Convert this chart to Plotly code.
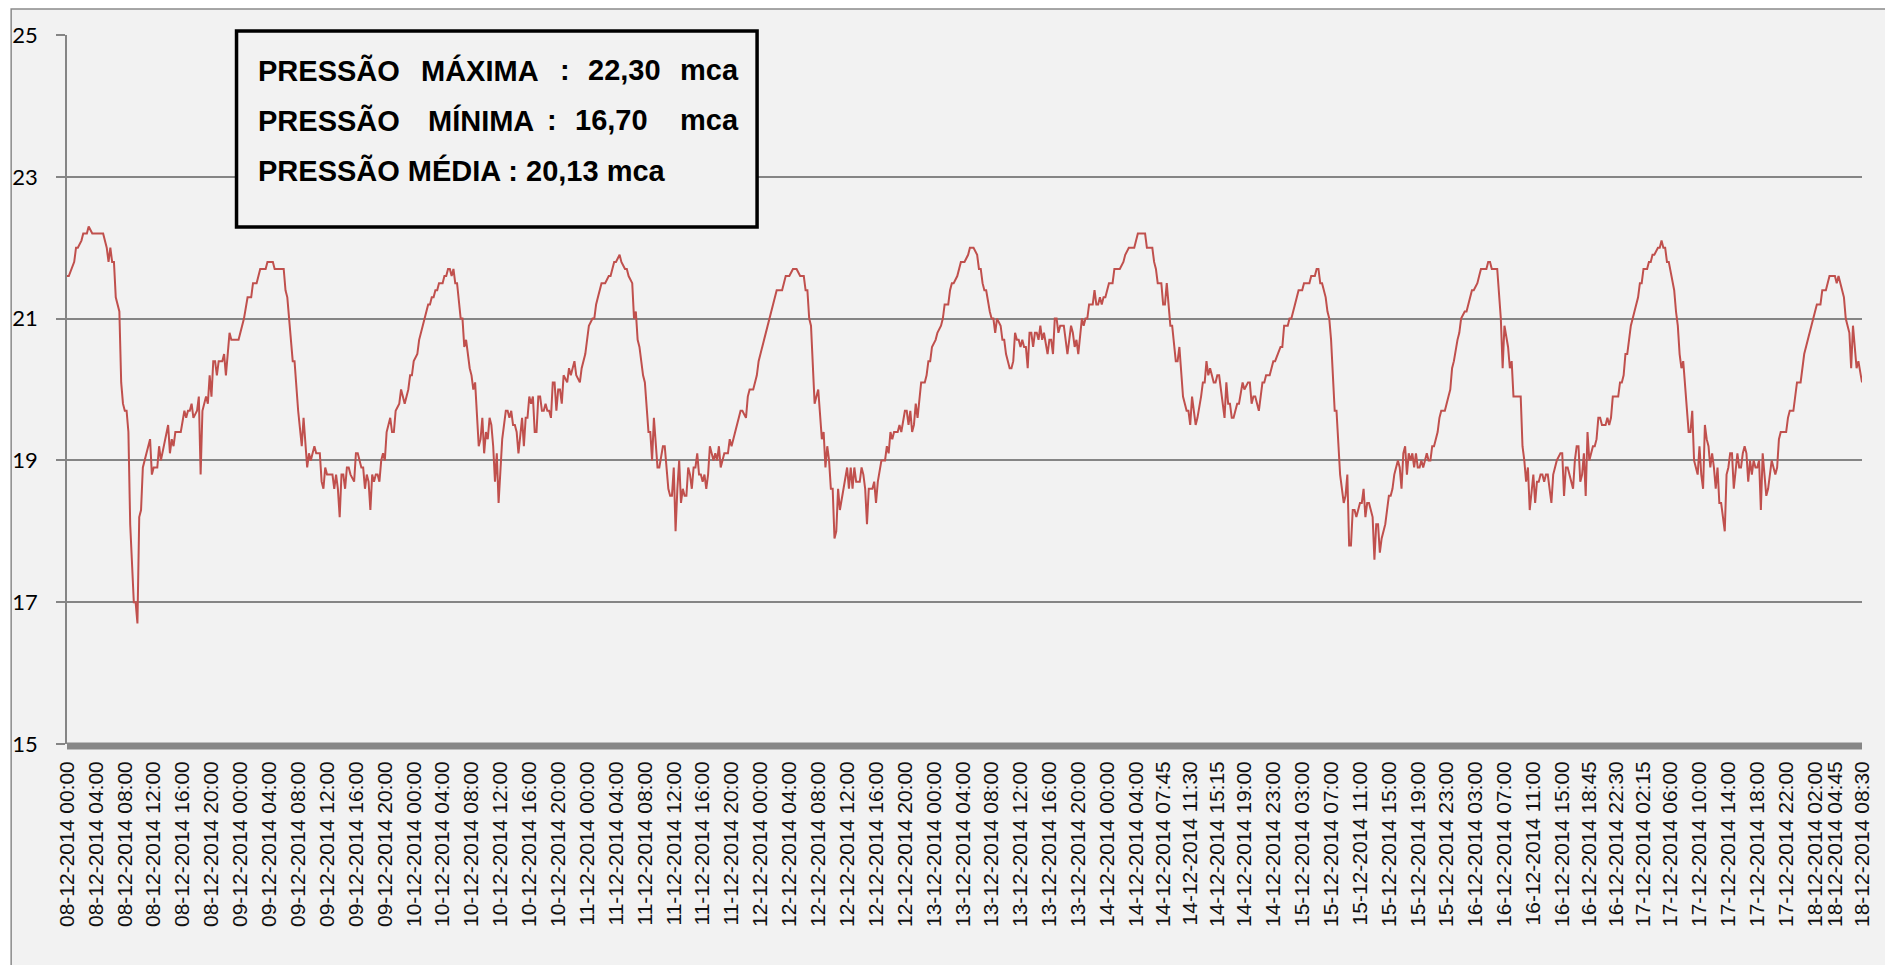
import plotly.graph_objects as go
import pandas as pd

# ---------------- data ----------------
inicio = pd.Timestamp("2014-12-08 00:00")   # first reading, one reading every 15 min
ultima_leitura = 994                          # 18-12-2014 08:30

# reading number (15-min step since 08-12-2014 00:00) and pressure (mca)
leitura = [
    0, 1, 4, 5, 6, 8, 9, 11, 12, 14, 20, 22, 23, 24, 25, 26, 27, 29, 30, 31, 32, 33, 34, 35, 37, 38, 39, 40,
    41, 42, 44, 46, 47, 48, 50, 51, 52, 55, 56, 57, 58, 59, 60, 63, 65, 66, 67, 68, 69, 70, 72, 73, 74, 75,
    77, 78, 79, 80, 81, 82, 83, 84, 86, 87, 88, 90, 91, 95, 98, 100, 102, 103, 105, 107, 110, 111, 114, 115,
    120, 121, 122, 125, 126, 128, 130, 131, 133, 134, 135, 136, 137, 138, 140, 141, 142, 143, 144, 147, 148,
    149, 150, 151, 152, 153, 154, 155, 156, 157, 159, 160, 161, 163, 164, 165, 166,
    167, 168, 169, 170, 171, 172, 173, 174, 175, 176, 177, 179, 180, 181, 182, 184, 185, 187, 189, 190, 191,
    192, 194, 195, 197, 198, 200, 201, 202, 203, 204, 205, 206, 208, 209, 210, 211, 212, 213, 214, 215, 216,
    218, 219, 220, 221, 223, 224, 225, 226, 227, 228, 229, 230, 231, 232, 233, 234, 235, 236, 237, 238, 239,
    240, 241, 243, 244, 245, 246, 247, 248, 249, 250, 252, 253, 254, 255, 256, 257, 258, 259, 260, 261, 262,
    263, 264, 265, 266, 267, 268, 269, 270, 271, 272, 273, 274, 275, 277, 278, 279, 281, 282, 284, 285, 287,
    289, 291, 292, 293, 294, 296, 298, 300, 301, 303, 304, 306, 307, 309, 310, 311, 313, 314, 315, 316, 317,
    319, 320, 322, 323, 324, 325, 327, 328, 330, 331, 333,
    334, 335, 336, 337, 338, 339, 340, 341, 342, 343, 344, 345, 346, 347, 348, 349, 350, 351, 352, 353, 354,
    355, 356, 357, 358, 359, 360, 361, 362, 364, 366, 367, 368, 370, 372, 373, 374, 376, 377, 378, 380, 382,
    383, 385, 386, 387, 388, 390, 392, 393, 396, 397, 398, 400, 402, 404, 406, 408, 409, 410, 411, 412, 413,
    414, 415, 416, 418, 419, 420, 421, 422, 423, 424, 425, 426, 427, 428, 430, 431, 432, 433, 434, 435, 436,
    437, 439, 440, 441, 442, 443, 444, 446, 447, 448, 449, 451, 453, 454, 455, 456, 457, 458, 460, 461, 462,
    464, 465, 466, 467, 468, 469, 470, 471, 472, 473, 475, 476, 477, 478, 479, 481, 482, 484, 485, 486, 488,
    489, 490, 491, 493, 494, 495, 497,
    499, 500, 502, 504, 505, 506, 507, 508, 509, 511, 512, 513, 514, 515, 517, 518, 519, 520, 521, 522, 523,
    524, 525, 526, 527, 528, 529, 530, 531, 532, 533, 534, 535, 536, 537, 538, 539, 540, 541, 543, 544, 545,
    546, 547, 548, 549, 550, 552, 553, 554, 555, 556, 557, 558, 559, 560, 562, 563, 564, 565, 566, 568, 569,
    570, 571, 572, 573, 574, 575, 577, 579, 580, 583, 585, 586, 588, 591, 593, 597, 598, 601, 602, 603, 604,
    606, 607, 608, 609, 611, 612, 614, 615, 616, 618, 620, 621, 622, 623, 625, 626, 628, 629, 630, 631, 632,
    633, 634, 635, 636, 637, 638, 639, 641, 642, 643, 644, 645, 646, 648, 649, 651, 652, 654, 655, 656, 657,
    658, 660, 662, 663, 664,
    665, 666, 668, 669, 672, 673, 674, 676, 677, 678, 680, 682, 684, 685, 688, 689, 691, 692, 693, 694, 695,
    697, 698, 699, 700, 701, 702, 703, 705, 707, 708, 709, 710, 711, 712, 713, 714, 715, 716, 717, 718, 719,
    720, 721, 722, 723, 724, 725, 726, 727, 728, 730, 732, 733, 734, 735, 736, 737, 738, 739, 740, 741, 742,
    743, 744, 745, 746, 747, 748, 749, 750, 751, 752, 753, 754, 755, 756, 757, 759, 760, 761, 763, 765, 766,
    767, 768, 770, 771, 772, 774, 775, 777, 778, 779, 781, 782, 783, 786, 787, 788, 789, 792, 793, 794, 795,
    796, 798, 799, 800, 801, 802, 805, 806, 807, 808, 809, 810, 811, 812, 813, 814, 815, 816, 817, 818, 819,
    820, 821, 822, 823, 825, 827, 828, 829, 830,
    831, 833, 834, 835, 836, 837, 838, 839, 840, 841, 842, 843, 844, 845, 846, 847, 848, 849, 850, 852, 853,
    854, 855, 856, 859, 860, 861, 862, 863, 864, 865, 866, 868, 870, 871, 872, 873, 875, 876, 877, 878, 879,
    881, 882, 883, 884, 885, 886, 887, 889, 890, 891, 892, 893, 894, 895, 896, 898, 899, 900, 901, 902, 903,
    904, 905, 906, 907, 908, 909, 910, 911, 912, 913, 914, 915, 916, 917, 918, 919, 920, 921, 922, 923, 924,
    925, 926, 927, 928, 929, 930, 931, 932, 933, 934, 935, 936, 937, 938, 939, 940, 941, 942, 943, 944, 945,
    946, 947, 948, 949, 952, 953, 954, 956, 957, 958, 960, 961, 962, 964, 966, 967, 969, 971, 972, 974, 976,
    979, 980, 981, 982, 984, 985, 987, 988, 989, 991, 992, 994,
]
pressao = [
    21.6, 21.6, 21.8, 22.0, 22.0, 22.1, 22.2, 22.2, 22.3, 22.2, 22.2, 22.0, 21.8, 22.0, 21.8, 21.8, 21.3, 21.1, 20.1, 19.8, 19.7, 19.7, 19.4, 18.1, 17.0, 17.0, 16.7, 18.2,
    18.3, 18.9, 19.1, 19.3, 18.8, 18.9, 18.9, 19.2, 19.0, 19.4, 19.5, 19.1, 19.3, 19.2, 19.4, 19.4, 19.7, 19.6, 19.7, 19.7, 19.8, 19.6, 19.7, 19.9, 18.8, 19.7,
    19.9, 19.8, 20.2, 19.9, 20.4, 20.4, 20.2, 20.4, 20.4, 20.5, 20.2, 20.8, 20.7, 20.7, 21.0, 21.3, 21.3, 21.5, 21.5, 21.7, 21.7, 21.8, 21.8, 21.7,
    21.7, 21.4, 21.3, 20.4, 20.4, 19.7, 19.2, 19.6, 18.9, 19.1, 19.0, 19.1, 19.2, 19.1, 19.1, 18.7, 18.6, 18.9, 18.8, 18.8, 18.6,
    18.8, 18.6, 18.2, 18.8, 18.8, 18.6, 18.9, 18.9, 18.8, 18.7, 19.1, 19.1, 18.9, 18.9, 18.6, 18.8,
    18.7, 18.3, 18.8, 18.7, 18.8, 18.8, 18.7, 19.0, 19.1, 19.0, 19.4, 19.6, 19.4, 19.4, 19.7, 19.8, 20.0, 19.8, 20.0, 20.2, 20.2,
    20.4, 20.5, 20.7, 20.9, 21.0, 21.2, 21.2, 21.3, 21.3, 21.4, 21.4, 21.5, 21.5, 21.6, 21.6, 21.7, 21.7, 21.6, 21.7, 21.5, 21.5,
    21.0, 21.0, 20.6, 20.7, 20.3, 20.2, 20.0, 20.1, 19.6, 19.2, 19.3, 19.6, 19.1, 19.4, 19.3, 19.6, 19.5, 19.2, 18.7, 19.1, 18.4,
    18.9, 19.3, 19.7, 19.7, 19.6, 19.7, 19.5, 19.5, 19.4, 19.1, 19.6, 19.2, 19.6, 19.6, 19.9, 19.8, 19.9, 19.4, 19.4, 19.9, 19.9,
    19.7, 19.7, 19.8, 19.7, 19.7, 19.6, 20.1, 20.1, 19.7, 20.0, 20.0, 19.8, 20.2, 20.1, 20.3, 20.2, 20.4, 20.2, 20.1, 20.3, 20.5,
    20.9, 21.0, 21.0, 21.2, 21.3, 21.5, 21.5, 21.6, 21.6, 21.8, 21.8, 21.9, 21.8, 21.7, 21.7, 21.6, 21.5, 21.0, 21.1, 20.7, 20.6,
    20.2, 20.1, 19.4, 19.4, 19.0, 19.6, 18.9, 18.9, 19.2, 19.2, 18.6,
    18.5, 18.5, 18.9, 18.0, 18.6, 19.0, 18.4, 18.6, 18.5, 18.5, 18.9, 18.8, 18.6, 18.9, 18.9, 19.1, 18.8, 18.8, 18.7, 18.8, 18.6,
    18.8, 19.2, 19.1, 19.0, 19.1, 19.0, 19.2, 18.9, 19.1, 19.1, 19.3, 19.2, 19.4, 19.6, 19.7, 19.7, 19.6, 19.9, 20.0, 20.0, 20.2,
    20.4, 20.6, 20.7, 20.8, 20.9, 21.1, 21.3, 21.4, 21.4, 21.5, 21.6, 21.6, 21.7, 21.7, 21.6, 21.6, 21.4, 21.4, 21.0, 20.9, 20.4,
    19.8, 19.9, 20.0, 19.3, 19.4, 18.9, 19.2, 19.0, 18.6, 18.6, 17.9, 18.0, 18.6, 18.3, 18.6, 18.7, 18.9, 18.6, 18.9, 18.6, 18.9,
    18.7, 18.7, 18.9, 18.8, 18.6, 18.1, 18.6, 18.6, 18.7, 18.4, 18.7, 19.0, 19.0, 19.2, 19.1, 19.4, 19.3, 19.4, 19.4, 19.5, 19.4,
    19.7, 19.7, 19.5, 19.7, 19.4, 19.5, 19.8, 19.6, 19.9, 20.1, 20.1, 20.2, 20.4, 20.4, 20.6, 20.7, 20.8, 20.9, 21.0, 21.2, 21.2,
    21.4, 21.5, 21.5, 21.6, 21.7, 21.8, 21.8,
    21.9, 22.0, 22.0, 21.9, 21.7, 21.7, 21.5, 21.4, 21.4, 21.1, 21.0, 21.0, 20.8, 21.0, 20.9, 20.7, 20.7, 20.5, 20.4, 20.3, 20.3,
    20.4, 20.8, 20.7, 20.7, 20.6, 20.7, 20.6, 20.6, 20.3, 20.8, 20.8, 20.6, 20.8, 20.8, 20.7, 20.9, 20.7, 20.8, 20.5, 20.7, 20.7,
    20.5, 21.0, 21.0, 20.8, 20.9, 20.9, 20.7, 20.5, 20.7, 20.9, 20.8, 20.6, 20.7, 20.5, 21.0, 20.9, 21.0, 21.0, 21.2, 21.2, 21.4,
    21.2, 21.2, 21.3, 21.2, 21.3, 21.3, 21.5, 21.5, 21.7, 21.7, 21.8, 21.9, 22.0, 22.0, 22.2, 22.2, 22.0, 22.0, 21.8, 21.7, 21.5,
    21.5, 21.2, 21.2, 21.5, 20.9, 20.9, 20.4, 20.4, 20.6, 19.9, 19.7, 19.7, 19.5, 19.9, 19.5, 19.6, 19.9, 20.1, 20.1, 20.4, 20.2,
    20.3, 20.2, 20.1, 20.1, 20.2, 20.2, 20.0, 19.6, 20.1, 19.8, 19.8, 19.6, 19.6, 19.8, 19.8, 20.1, 20.0, 20.1, 20.1, 19.8, 19.9,
    19.9, 19.7, 20.1, 20.1, 20.2,
    20.2, 20.2, 20.4, 20.4, 20.6, 20.6, 20.9, 20.9, 21.0, 21.0, 21.2, 21.4, 21.4, 21.5, 21.5, 21.6, 21.6, 21.7, 21.7, 21.5, 21.5,
    21.3, 21.1, 21.0, 20.7, 20.2, 19.7, 19.7, 18.8, 18.4, 18.5, 18.8, 17.8, 17.8, 18.3, 18.3, 18.2, 18.3, 18.4, 18.4, 18.6, 18.2,
    18.4, 18.4, 18.3, 18.2, 17.6, 18.1, 18.1, 17.7, 17.9, 18.1, 18.5, 18.5, 18.6, 18.8, 18.9, 19.0, 18.9, 18.6, 19.1, 19.2, 18.8,
    19.1, 19.0, 19.1, 18.9, 19.1, 18.9, 18.9, 19.0, 18.9, 19.0, 19.1, 19.0, 19.0, 19.2, 19.2, 19.4, 19.6, 19.7, 19.7, 19.9, 20.0,
    20.3, 20.4, 20.7, 20.8, 21.0, 21.1, 21.1, 21.3, 21.4, 21.4, 21.5, 21.6, 21.7, 21.7, 21.8, 21.8, 21.7, 21.7, 21.4, 21.0, 20.3,
    20.9, 20.6, 20.3, 20.4, 19.9, 19.9, 19.9, 19.2, 19.0, 18.7, 18.9, 18.3, 18.6, 18.8, 18.4, 18.7, 18.7, 18.8, 18.8, 18.7, 18.8,
    18.8, 18.6, 18.4, 18.8, 19.0, 19.1, 19.1, 18.5, 18.9,
    18.9, 18.7, 18.6, 19.0, 19.2, 19.2, 18.7, 18.8, 19.1, 18.5, 19.4, 19.0, 19.1, 19.2, 19.2, 19.3, 19.6, 19.6, 19.5, 19.5, 19.6,
    19.5, 19.6, 19.9, 19.9, 20.1, 20.1, 20.2, 20.5, 20.5, 20.7, 20.9, 21.1, 21.3, 21.5, 21.5, 21.7, 21.7, 21.8, 21.8, 21.9, 21.9,
    22.0, 22.0, 22.1, 22.0, 22.0, 21.8, 21.8, 21.5, 21.4, 21.1, 20.9, 20.5, 20.3, 20.4, 20.1, 19.4, 19.4, 19.7, 19.0, 18.9, 18.8,
    19.2, 18.8, 18.6, 19.5, 19.3, 19.2, 18.9, 19.1, 18.9, 18.6, 18.9, 18.4, 18.4, 18.2, 18.0, 18.8, 18.9, 19.1, 19.1, 18.6, 18.9,
    19.1, 18.9, 18.9, 19.1, 19.2, 19.1, 18.7, 19.0, 18.8, 19.0, 18.9, 18.9, 19.0, 18.3, 19.1, 18.8, 18.5, 18.6, 18.8, 19.0, 18.9,
    18.8, 18.9, 19.3, 19.4, 19.4, 19.6, 19.7, 19.7, 19.9, 20.1, 20.1, 20.3, 20.5, 20.7, 20.9, 21.0, 21.2, 21.2, 21.4, 21.4, 21.6,
    21.6, 21.5, 21.6, 21.5, 21.3, 21.0, 20.8, 20.3, 20.9, 20.3, 20.4, 20.1,
]

# category labels shown on the x axis
rotulos = [
    "08-12-2014 00:00", "08-12-2014 04:00", "08-12-2014 08:00", "08-12-2014 12:00", "08-12-2014 16:00", "08-12-2014 20:00",
    "09-12-2014 00:00", "09-12-2014 04:00", "09-12-2014 08:00", "09-12-2014 12:00", "09-12-2014 16:00", "09-12-2014 20:00",
    "10-12-2014 00:00", "10-12-2014 04:00", "10-12-2014 08:00", "10-12-2014 12:00", "10-12-2014 16:00", "10-12-2014 20:00",
    "11-12-2014 00:00", "11-12-2014 04:00", "11-12-2014 08:00", "11-12-2014 12:00", "11-12-2014 16:00", "11-12-2014 20:00",
    "12-12-2014 00:00", "12-12-2014 04:00", "12-12-2014 08:00", "12-12-2014 12:00", "12-12-2014 16:00", "12-12-2014 20:00",
    "13-12-2014 00:00", "13-12-2014 04:00", "13-12-2014 08:00", "13-12-2014 12:00", "13-12-2014 16:00", "13-12-2014 20:00",
    "14-12-2014 00:00", "14-12-2014 04:00", "14-12-2014 07:45", "14-12-2014 11:30", "14-12-2014 15:15", "14-12-2014 19:00",
    "14-12-2014 23:00", "15-12-2014 03:00", "15-12-2014 07:00", "15-12-2014 11:00", "15-12-2014 15:00", "15-12-2014 19:00",
    "15-12-2014 23:00", "16-12-2014 03:00", "16-12-2014 07:00", "16-12-2014 11:00", "16-12-2014 15:00", "16-12-2014 18:45",
    "16-12-2014 22:30", "17-12-2014 02:15", "17-12-2014 06:00", "17-12-2014 10:00", "17-12-2014 14:00", "17-12-2014 18:00",
    "17-12-2014 22:00", "18-12-2014 02:00", "18-12-2014 04:45", "18-12-2014 08:30",
]

# summary box text
linha_max = ["PRESSÃO", "MÁXIMA", ":", "22,30", "mca"]
linha_min = ["PRESSÃO", "MÍNIMA", ":", "16,70", "mca"]
linha_med = "PRESSÃO MÉDIA : 20,13 mca"

# ---------------- build ----------------
tempos = [inicio + pd.Timedelta(minutes=15 * k) for k in leitura]
fim = inicio + pd.Timedelta(minutes=15 * ultima_leitura)
tick_pos = [pd.to_datetime(r, format="%d-%m-%Y %H:%M") for r in rotulos]

W, H = 1885, 965
ML, MR, MT, MB = 67, 18, 35, 221
PW, PH = W - ML - MR, H - MT - MB


def px(x):
    return (x - ML) / PW


def py(y):
    return (H - MB - y) / PH


GRID = "#858585"
fig = go.Figure()
fig.add_trace(go.Scatter(
    x=tempos, y=pressao, mode="lines",
    line=dict(color="#C0504D", width=2),
    showlegend=False, hoverinfo="x+y",
))

shapes = [
    # chart area with its grey frame
    dict(type="rect", xref="paper", yref="paper", x0=px(11), x1=px(W + 20), y0=py(H + 20), y1=py(9),
         fillcolor="#F2F2F2", line=dict(color="#8A8A8A", width=1.5), layer="below"),
    # dense category tick band under the x axis
    dict(type="rect", xref="paper", yref="paper", x0=0, x1=1, y0=py(749.5), y1=py(742.5),
         fillcolor="#878787", line=dict(width=0), layer="above"),
    # summary box
    dict(type="rect", xref="paper", yref="paper", x0=px(237), x1=px(759), y0=py(227), y1=py(31),
         fillcolor="#F2F2F2", line=dict(color="black", width=3.5), layer="above"),
]

annotations = []
fnt = dict(family="Liberation Sans, Arial", size=29, color="black")
x_max = [257, 420, 559, 587, 680]
x_min = [257, 427, 546, 574, 680]
for words, xs, yc in ((linha_max, x_max, 70), (linha_min, x_min, 120)):
    for w, xw in zip(words, xs):
        annotations.append(dict(xref="paper", yref="paper", x=px(xw), y=py(yc), text="<b>%s</b>" % w,
                                showarrow=False, xanchor="left", yanchor="middle", font=fnt))
annotations.append(dict(xref="paper", yref="paper", x=px(257), y=py(170), text="<b>%s</b>" % linha_med,
                        showarrow=False, xanchor="left", yanchor="middle", font=fnt))

fig.update_layout(
    width=W, height=H,
    margin=dict(l=ML, r=MR, t=MT, b=MB, pad=0),
    paper_bgcolor="white", plot_bgcolor="rgba(0,0,0,0)",
    shapes=shapes, annotations=annotations,
    xaxis=dict(type="date", range=[inicio, fim], tickmode="array", tickvals=tick_pos, ticktext=rotulos,
               tickangle=-90, showgrid=False, showline=False, zeroline=False, ticks="",
               tickfont=dict(family="Liberation Sans, Arial", size=21, color="#111111"),
               ticklabelstandoff=12),
    yaxis=dict(range=[15, 25], tickmode="array", tickvals=[15, 17, 19, 21, 23, 25],
               showgrid=True, gridcolor=GRID, gridwidth=1.6, zeroline=False,
               showline=True, linecolor=GRID, linewidth=1.6,
               ticks="outside", ticklen=9, tickcolor=GRID, tickwidth=1.6,
               tickfont=dict(family="Lato", size=22, color="black"), ticklabelstandoff=14),
)

fig.write_html("out.html", config={"displayModeBar": False},
               post_script="document.body.style.margin='0';document.body.style.overflow='hidden';")
